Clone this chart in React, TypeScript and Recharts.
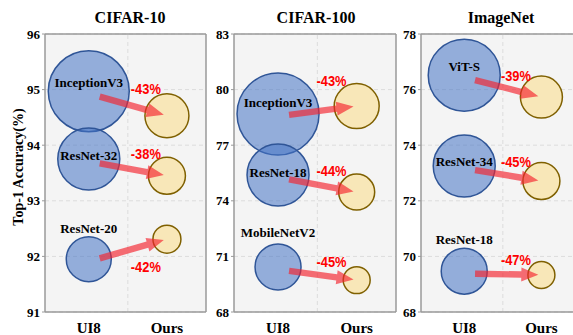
import React from 'react';
import { ScatterChart, Scatter, XAxis, YAxis, ZAxis, CartesianGrid, ReferenceLine } from 'recharts';

const methods = ['UI8', 'Ours'];

const cifar10Models = ['InceptionV3', 'ResNet-32', 'ResNet-20'];
const cifar10Ui8 = [94.97, 93.75, 91.95];
const cifar10Ours = [94.53, 93.45, 92.31];
const cifar10Ui8Size = [1640, 961, 506];
const cifar10OursSize = [484, 342, 196];
const cifar10Drop = ['-43%', '-38%', '-42%'];
const cifar10Ticks = [91, 92, 93, 94, 95, 96];

const cifar100Models = ['InceptionV3', 'ResNet-18', 'MobileNetV2'];
const cifar100Ui8 = [78.68, 75.39, 70.43];
const cifar100Ours = [79.11, 74.47, 69.72];
const cifar100Ui8Size = [1681, 961, 529];
const cifar100OursSize = [506, 324, 182];
const cifar100Drop = ['-43%', '-44%', '-45%'];
const cifar100Ticks = [68, 71, 74, 77, 80, 83];

const imagenetModels = ['ViT-S', 'ResNet-34', 'ResNet-18'];
const imagenetUi8 = [76.52, 73.25, 69.47];
const imagenetOurs = [75.73, 72.71, 69.33];
const imagenetUi8Size = [1296, 961, 529];
const imagenetOursSize = [441, 342, 182];
const imagenetDrop = ['-39%', '-45%', '-47%'];
const imagenetTicks = [68, 70, 72, 74, 76, 78];

const SERIF = '"Liberation Serif", "Times New Roman", serif';
const SANS = '"Liberation Sans", Arial, sans-serif';
const BORDER = '#9a9a9a';

const panels = [
  {
    title: 'CIFAR-10', models: cifar10Models, ui8: cifar10Ui8, ours: cifar10Ours,
    ui8Size: cifar10Ui8Size, oursSize: cifar10OursSize, drop: cifar10Drop, ticks: cifar10Ticks,
    left: 0, width: 210, yWidth: 45, titleX: 130,
    nameDy: [-9, -4, -31], pctDy: [-3, -6, 7], pctAt: 0.73,
  },
  {
    title: 'CIFAR-100', models: cifar100Models, ui8: cifar100Ui8, ours: cifar100Ours,
    ui8Size: cifar100Ui8Size, oursSize: cifar100OursSize, drop: cifar100Drop, ticks: cifar100Ticks,
    left: 210, width: 190, yWidth: 24, titleX: 316,
    nameDy: [-12, -3, -34], pctDy: [-34, -5, -5], pctAt: 0.68,
  },
  {
    title: 'ImageNet', models: imagenetModels, ui8: imagenetUi8, ours: imagenetOurs,
    ui8Size: imagenetUi8Size, oursSize: imagenetOursSize, drop: imagenetDrop, ticks: imagenetTicks,
    left: 400, width: 184, yWidth: 21, titleX: 501,
    nameDy: [-9, -5, -32], pctDy: [0, -5, -12], pctAt: 0.67,
  },
];

const makeBubble = (nameDy: number[]) => (props: any) => {
  const { cx, cy, width, payload } = props;
  const r = width / 2;
  const ours = payload.x === 1;
  return (
    <g>
      <circle
        cx={cx}
        cy={cy}
        r={r}
        fill={ours ? '#f8e7b8' : '#4472c4'}
        fillOpacity={ours ? 1 : 0.55}
        stroke={ours ? '#7f6000' : '#2f5597'}
        strokeWidth={1.5}
      />
      {!ours && (
        <text
          x={cx}
          y={cy + nameDy[payload.idx]}
          textAnchor="middle"
          dominantBaseline="central"
          style={{ fontFamily: SERIF, fontWeight: 700, fontSize: 13 }}
          fill="#000"
        >
          {payload.name}
        </text>
      )}
    </g>
  );
};

const makeArrow = (label: string, pctAt: number, pctDy: number) => (props: any) => {
  const pts = props.points;
  if (!pts || pts.length < 2) return <g />;
  const [a, b] = pts;
  const dx = b.x - a.x;
  const dy = b.y - a.y;
  const sx = a.x + 0.14 * dx;
  const sy = a.y + 0.14 * dy + 2;
  const ex = a.x + 0.96 * dx;
  const ey = a.y + 0.96 * dy;
  const len = Math.hypot(ex - sx, ey - sy);
  const ux = (ex - sx) / len;
  const uy = (ey - sy) / len;
  const nx = -uy;
  const ny = ux;
  const hl = 17, hw = 7, sw = 3.2;
  const bx = ex - ux * hl;
  const by = ey - uy * hl;
  const poly = [
    [sx + nx * sw, sy + ny * sw],
    [bx + nx * sw, by + ny * sw],
    [bx + nx * hw, by + ny * hw],
    [ex, ey],
    [bx - nx * hw, by - ny * hw],
    [bx - nx * sw, by - ny * sw],
    [sx - nx * sw, sy - ny * sw],
  ].map((p) => p.join(',')).join(' ');
  return (
    <g>
      <polygon points={poly} fill="#f5222d" fillOpacity={0.65} />
      <text
        x={a.x + pctAt * dx}
        y={a.y + pctDy}
        textAnchor="middle"
        dominantBaseline="central"
        textLength={30}
        lengthAdjust="spacingAndGlyphs"
        style={{ fontFamily: SANS, fontWeight: 700, fontSize: 15 }}
        fill="#ff0000"
      >
        {label}
      </text>
    </g>
  );
};

const MethodTick = (props: any) => {
  const { x, y, payload } = props;
  return (
    <text x={x} y={y} dy={13} textAnchor="middle" style={{ fontFamily: SERIF, fontWeight: 700, fontSize: 15 }} fill="#000">
      {methods[payload.value]}
    </text>
  );
};

const Panel = ({ p }: { p: (typeof panels)[number] }) => {
  const lo = p.ticks[0];
  const hi = p.ticks[p.ticks.length - 1];
  const bubbles = p.models.flatMap((name, i) => [
    { x: 0, y: p.ui8[i], z: p.ui8Size[i], name, idx: i },
    { x: 1, y: p.ours[i], z: p.oursSize[i], name, idx: i },
  ]);
  return (
    <div style={{ position: 'absolute', left: p.left, top: 0 }}>
      <ScatterChart width={p.width} height={335} margin={{ top: 34, right: 4, bottom: 0, left: 0 }}>
        <CartesianGrid
          vertical={false}
          stroke="#dcdcdc"
          strokeDasharray="4 3"
          fill="#f4f4f4"
          fillOpacity={1}
        />
        <XAxis
          type="number"
          dataKey="x"
          domain={[-0.56, 1.5]}
          ticks={[0, 1]}
          allowDataOverflow
          height={23}
          tickLine={false}
          axisLine={{ stroke: BORDER, strokeWidth: 1.5 }}
          tick={<MethodTick />}
          interval={0}
        />
        <YAxis
          type="number"
          dataKey="y"
          domain={[lo, hi]}
          ticks={p.ticks}
          allowDataOverflow
          width={p.yWidth}
          tickSize={3}
          tickMargin={2}
          interval={0}
          tickLine={{ stroke: BORDER }}
          axisLine={{ stroke: BORDER, strokeWidth: 1.5 }}
          tick={{ fontFamily: SERIF, fontWeight: 700, fontSize: 13, fill: '#000' }}
        />
        <ZAxis type="number" dataKey="z" domain={[0, 2000]} range={[0, 2000 * Math.PI]} />
        <ReferenceLine x={0.5} stroke="#dcdcdc" strokeDasharray="4 3" />
        <ReferenceLine y={hi} stroke={BORDER} strokeWidth={1.5} />
        <ReferenceLine x={1.5} stroke={BORDER} strokeWidth={1.5} />
        <Scatter data={bubbles} shape={makeBubble(p.nameDy)} isAnimationActive={false} />
        {p.models.map((name, i) => (
          <Scatter
            key={name}
            data={[{ x: 0, y: p.ui8[i] }, { x: 1, y: p.ours[i] }]}
            shape={() => <g />}
            line={makeArrow(p.drop[i], p.pctAt, p.pctDy[i])}
            isAnimationActive={false}
          />
        ))}
      </ScatterChart>
    </div>
  );
};

export default function App() {
  return (
    <div style={{ position: 'absolute', left: 0, top: 0, width: 573, height: 335, overflow: 'hidden', background: '#fff' }}>
      {panels.map((p) => (
        <Panel key={p.title} p={p} />
      ))}
      <svg width={573} height={335} style={{ position: 'absolute', left: 0, top: 0, pointerEvents: 'none' }}>
        {panels.map((p) => (
          <text
            key={p.title}
            x={p.titleX}
            y={23}
            textAnchor="middle"
            style={{ fontFamily: SERIF, fontWeight: 700, fontSize: 16 }}
            fill="#000"
          >
            {p.title}
          </text>
        ))}
        <text
          x={18}
          y={167}
          transform="rotate(-90 18 167)"
          textAnchor="middle"
          dominantBaseline="central"
          style={{ fontFamily: SERIF, fontWeight: 700, fontSize: 14 }}
          fill="#000"
        >
          Top-1 Accuracy(%)
        </text>
      </svg>
    </div>
  );
}
